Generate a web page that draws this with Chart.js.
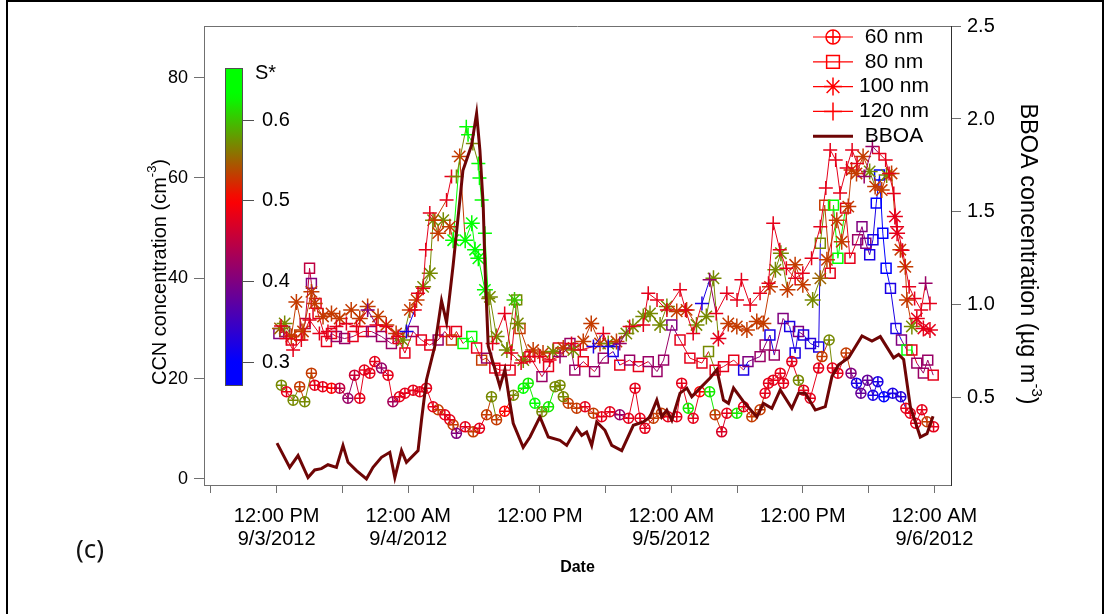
<!DOCTYPE html>
<html>
<head>
<meta charset="utf-8">
<script src="https://cdn.jsdelivr.net/npm/chart.js@4.4.1/dist/chart.umd.min.js"></script>
<style>
  body { margin: 0; background: #fff; }
  #wrap { position: relative; width: 1108px; height: 614px; }
  #frame { position: absolute; left: 6px; top: 0; width: 1094px; height: 612px; border: 2px solid #000; border-bottom: none; }
  #panel { position: absolute; left: 76px; top: 530px; font: 26px "Noto Sans", "Open Sans", sans-serif; color: #111; }
</style>
</head>
<body>
<div id="wrap">
  <canvas id="ccnChart" width="1108" height="614"></canvas>
  <div id="frame"></div>
  <div id="panel">(c)</div>
</div>
<script>
// time axis: hours since 9/3/2012 00:00
const tickHours = [6, 12, 18, 24, 30, 36, 42, 48, 54, 60, 66, 72];
const labelHours = [12, 24, 36, 48, 60, 72];
const labelTimes = ['12:00 PM', '12:00 AM', '12:00 PM', '12:00 AM', '12:00 PM', '12:00 AM'];
const labelDates = ['9/3/2012', '9/4/2012', '', '9/5/2012', '', '9/6/2012'];
const ccnTicks = [0, 20, 40, 60, 80];
const bboaTicks = [0.5, 1.0, 1.5, 2.0, 2.5];
const sStarTicks = [0.3, 0.4, 0.5, 0.6];

// 60 nm
const t60 = [12.43, 12.9, 13.5, 14.1, 14.56, 15.17, 15.47, 16.2, 17.0, 17.75, 18.5, 19.1, 19.58, 20.0, 20.5, 20.95, 21.56, 22.16, 22.6, 23.2, 23.7, 24.45, 25.06, 25.67, 26.27, 26.73, 27.34, 27.8, 28.1, 28.4, 29.2, 29.93, 30.5, 31.15, 31.6, 32.06, 32.8, 33.6, 34.5, 34.95, 35.56, 36.2, 36.8, 37.4, 37.85, 38.15, 38.6, 39.37, 40.13, 40.9, 41.65, 42.4, 43.3, 44.1, 44.7, 45.15, 45.6, 46.37, 47.1, 47.7, 48.5, 48.95, 49.55, 50.0, 50.6, 51.5, 52.0, 52.6, 53.07, 53.98, 54.6, 55.35, 56.1, 56.56, 56.87, 57.3, 57.94, 58.24, 59.0, 59.6, 60.07, 60.68, 61.44, 61.75, 62.4, 62.7, 63.2, 63.95, 64.4, 64.9, 65.3, 65.9, 66.4, 66.85, 67.4, 68.2, 68.94, 69.4, 69.8, 70.3, 70.87, 71.33, 71.93];
const ccn60 = [18.7, 17.4, 15.7, 18.4, 15.4, 21.1, 18.7, 18.4, 18.1, 18.1, 16.1, 20.7, 16.1, 21.7, 21.1, 23.4, 22.1, 20.7, 15.4, 16.4, 17.1, 17.7, 17.4, 18.1, 14.4, 13.8, 12.8, 11.8, 10.8, 9.1, 10.4, 9.4, 10.1, 12.8, 16.4, 11.8, 13.5, 16.7, 18.1, 19.1, 15.1, 13.4, 14.4, 18.4, 18.7, 16.4, 15.1, 14.1, 14.4, 13.1, 12.4, 13.4, 12.8, 12.1, 18.1, 12.1, 10.1, 12.1, 13.1, 12.4, 12.4, 19.1, 14.1, 12.1, 17.4, 17.4, 12.8, 9.4, 13.1, 13.1, 14.4, 12.4, 13.8, 17.1, 19.1, 19.7, 21.1, 19.1, 23.4, 19.7, 17.7, 16.1, 22.1, 24.4, 27.7, 22.1, 21.1, 25.1, 21.1, 19.1, 17.1, 19.7, 16.7, 19.4, 16.4, 17.1, 16.4, 14.1, 13.1, 11.1, 13.8, 11.4, 10.4];
const s60 = [0.57, 0.48, 0.57, 0.53, 0.57, 0.53, 0.48, 0.48, 0.5, 0.45, 0.42, 0.46, 0.48, 0.48, 0.48, 0.48, 0.42, 0.48, 0.43, 0.48, 0.48, 0.48, 0.48, 0.48, 0.48, 0.53, 0.48, 0.48, 0.53, 0.4, 0.48, 0.53, 0.48, 0.53, 0.57, 0.53, 0.5, 0.57, 0.63, 0.62, 0.63, 0.57, 0.62, 0.57, 0.57, 0.57, 0.53, 0.53, 0.48, 0.53, 0.48, 0.48, 0.42, 0.48, 0.48, 0.48, 0.48, 0.53, 0.53, 0.48, 0.48, 0.48, 0.62, 0.48, 0.5, 0.62, 0.53, 0.47, 0.48, 0.62, 0.48, 0.53, 0.53, 0.48, 0.48, 0.48, 0.48, 0.48, 0.48, 0.57, 0.48, 0.48, 0.48, 0.53, 0.57, 0.48, 0.48, 0.53, 0.4, 0.32, 0.38, 0.38, 0.32, 0.32, 0.3, 0.32, 0.33, 0.48, 0.48, 0.48, 0.48, 0.53, 0.48];

// 80 nm
const t80 = [12.2, 12.73, 13.34, 14.1, 14.6, 15.0, 15.17, 15.6, 15.77, 16.54, 17.0, 17.45, 18.2, 18.97, 19.9, 20.65, 21.56, 22.47, 23.08, 23.7, 24.45, 25.2, 25.97, 26.73, 27.34, 27.95, 28.4, 29.0, 29.8, 30.24, 30.7, 31.15, 31.9, 32.4, 33.3, 33.9, 34.2, 35.1, 36.2, 36.8, 37.7, 38.76, 39.2, 39.97, 41.0, 41.8, 42.7, 43.3, 44.2, 45.0, 45.9, 46.7, 47.3, 48.05, 48.8, 49.7, 50.8, 51.4, 52.0, 52.76, 53.7, 54.6, 55.0, 56.1, 56.56, 57.0, 57.4, 58.2, 58.8, 59.3, 59.6, 60.07, 60.7, 61.45, 61.6, 62.0, 62.5, 62.8, 63.2, 63.9, 64.3, 65.0, 65.4, 65.75, 66.1, 66.4, 66.7, 67.0, 67.3, 67.6, 68.0, 68.5, 69.0, 69.5, 69.95, 70.4, 71.0, 71.4, 71.9];
const ccn80 = [29.0, 29.4, 27.7, 28.7, 31.0, 42.0, 39.0, 35.0, 33.0, 27.4, 29.0, 28.4, 28.0, 28.4, 29.4, 29.4, 28.4, 27.0, 28.0, 25.1, 29.4, 27.7, 26.7, 27.7, 29.4, 27.7, 29.4, 27.0, 28.4, 26.1, 23.7, 24.1, 22.1, 21.7, 21.7, 35.7, 30.0, 24.4, 20.4, 22.4, 26.1, 27.0, 21.7, 23.4, 21.4, 24.1, 25.4, 22.7, 23.7, 22.4, 23.4, 21.4, 23.7, 30.7, 27.7, 24.1, 23.1, 25.4, 21.7, 22.4, 23.7, 21.7, 23.4, 24.4, 26.7, 28.7, 24.7, 32.0, 30.4, 25.1, 29.4, 28.7, 27.0, 26.3, 47.0, 54.6, 41.0, 54.6, 44.0, 54.0, 44.0, 47.7, 50.3, 47.0, 44.7, 47.7, 55.0, 60.6, 49.0, 42.0, 38.0, 30.0, 27.7, 25.7, 25.7, 23.1, 21.1, 23.7, 20.7];
const s80 = [0.4, 0.42, 0.48, 0.53, 0.45, 0.45, 0.4, 0.48, 0.48, 0.48, 0.48, 0.42, 0.42, 0.48, 0.48, 0.42, 0.42, 0.42, 0.48, 0.48, 0.42, 0.48, 0.48, 0.42, 0.48, 0.53, 0.48, 0.63, 0.63, 0.48, 0.53, 0.42, 0.48, 0.48, 0.48, 0.57, 0.53, 0.48, 0.42, 0.48, 0.48, 0.42, 0.42, 0.48, 0.42, 0.42, 0.32, 0.48, 0.42, 0.48, 0.42, 0.42, 0.42, 0.4, 0.48, 0.48, 0.48, 0.57, 0.48, 0.48, 0.48, 0.32, 0.4, 0.42, 0.42, 0.32, 0.42, 0.4, 0.32, 0.32, 0.4, 0.32, 0.33, 0.32, 0.57, 0.53, 0.48, 0.63, 0.63, 0.48, 0.48, 0.42, 0.4, 0.4, 0.32, 0.32, 0.3, 0.3, 0.3, 0.3, 0.32, 0.32, 0.4, 0.63, 0.48, 0.42, 0.42, 0.42, 0.48];

// 100 nm
const t100 = [12.3, 12.73, 13.34, 13.8, 14.4, 15.17, 15.47, 16.23, 17.0, 17.75, 18.8, 19.58, 20.3, 21.25, 22.0, 22.9, 23.5, 24.15, 24.76, 25.36, 25.97, 26.27, 26.73, 27.2, 27.8, 28.1, 28.7, 29.2, 29.8, 30.1, 30.4, 31.0, 31.45, 32.06, 33.0, 33.7, 34.0, 34.5, 35.4, 36.3, 37.2, 38.15, 39.06, 39.97, 40.7, 41.5, 42.25, 43.0, 43.9, 44.5, 45.45, 46.06, 46.98, 47.6, 48.5, 49.4, 50.3, 51.2, 51.85, 52.3, 53.2, 53.98, 54.9, 55.8, 56.4, 57.0, 57.5, 58.0, 58.6, 59.3, 60.0, 60.9, 61.6, 62.2, 63.1, 63.55, 64.15, 64.45, 64.9, 65.5, 66.1, 66.6, 67.2, 67.65, 68.1, 68.4, 68.6, 68.9, 69.35, 69.5, 69.95, 70.4, 71.0, 71.6];
const ccn100 = [30.0, 31.0, 28.4, 35.3, 29.4, 37.3, 35.0, 32.4, 33.0, 32.0, 33.7, 32.0, 34.4, 32.4, 30.7, 29.0, 27.7, 33.7, 35.7, 38.3, 41.0, 51.6, 49.0, 51.6, 50.3, 47.6, 64.3, 47.6, 51.0, 45.7, 44.0, 37.7, 36.3, 28.4, 25.7, 35.7, 31.0, 23.7, 25.7, 25.1, 25.4, 26.1, 25.7, 27.4, 31.0, 27.0, 27.0, 27.4, 29.0, 30.4, 32.4, 33.0, 30.7, 34.4, 33.4, 33.7, 30.7, 32.4, 40.0, 28.0, 31.0, 30.4, 29.7, 31.4, 31.0, 38.3, 41.7, 45.0, 37.7, 42.7, 38.7, 35.7, 40.0, 43.7, 51.6, 47.3, 54.3, 61.6, 60.9, 64.3, 61.3, 58.3, 57.6, 60.6, 60.9, 52.3, 49.0, 45.7, 42.3, 35.7, 30.4, 32.0, 30.0, 29.7];
const s100 = [0.55, 0.57, 0.53, 0.53, 0.53, 0.53, 0.53, 0.53, 0.53, 0.53, 0.53, 0.53, 0.53, 0.53, 0.53, 0.53, 0.57, 0.53, 0.53, 0.57, 0.57, 0.57, 0.53, 0.57, 0.53, 0.63, 0.53, 0.63, 0.63, 0.63, 0.63, 0.63, 0.57, 0.57, 0.57, 0.6, 0.57, 0.57, 0.53, 0.53, 0.57, 0.53, 0.57, 0.53, 0.53, 0.53, 0.57, 0.53, 0.57, 0.57, 0.57, 0.57, 0.57, 0.57, 0.53, 0.53, 0.57, 0.57, 0.57, 0.48, 0.53, 0.53, 0.53, 0.53, 0.53, 0.53, 0.57, 0.57, 0.53, 0.53, 0.53, 0.57, 0.55, 0.53, 0.53, 0.53, 0.53, 0.53, 0.53, 0.53, 0.57, 0.53, 0.53, 0.57, 0.53, 0.48, 0.48, 0.53, 0.53, 0.53, 0.57, 0.48, 0.48, 0.48];

// 120 nm
const t120 = [12.4, 12.9, 13.5, 14.25, 15.0, 15.9, 16.68, 17.45, 18.36, 19.28, 20.3, 21.1, 22.0, 23.08, 23.84, 24.6, 24.9, 25.36, 25.6, 25.97, 26.43, 27.5, 27.95, 28.4, 29.3, 29.46, 29.9, 30.4, 30.5, 30.7, 31.0, 31.3, 31.7, 32.8, 33.4, 34.3, 35.1, 36.0, 36.9, 37.85, 38.9, 39.7, 40.9, 41.8, 42.25, 43.3, 44.2, 45.45, 45.9, 46.7, 47.6, 48.8, 49.3, 50.0, 50.8, 51.5, 52.1, 53.07, 54.0, 54.4, 55.2, 56.1, 56.87, 57.3, 57.9, 58.5, 59.3, 60.0, 60.8, 61.6, 62.1, 62.5, 63.0, 63.4, 64.0, 64.5, 64.95, 65.6, 66.35, 66.96, 67.56, 67.87, 68.3, 68.6, 69.1, 69.7, 70.2, 70.8, 71.2, 71.6];
const ccn120 = [30.5, 28.0, 25.7, 27.7, 31.7, 29.0, 29.4, 30.4, 31.0, 30.4, 33.7, 30.7, 30.4, 28.4, 29.4, 33.7, 37.0, 38.0, 45.7, 53.0, 51.6, 55.6, 60.3, 60.3, 70.2, 68.6, 66.9, 62.9, 60.0, 55.6, 49.0, 36.0, 27.0, 33.0, 25.1, 23.1, 24.4, 24.4, 23.7, 24.4, 27.0, 25.7, 26.4, 29.0, 26.4, 27.0, 30.4, 30.7, 37.0, 35.7, 33.7, 37.7, 33.7, 29.0, 35.0, 39.7, 33.0, 37.0, 35.7, 39.7, 34.7, 37.0, 39.0, 51.0, 45.7, 42.0, 40.0, 41.0, 44.0, 50.3, 58.0, 65.6, 63.6, 57.0, 62.0, 65.6, 62.9, 60.3, 66.3, 64.9, 63.6, 60.9, 56.9, 50.3, 45.6, 38.3, 36.0, 33.7, 39.0, 35.0];
const s120 = [0.48, 0.48, 0.48, 0.48, 0.48, 0.48, 0.48, 0.48, 0.48, 0.48, 0.4, 0.48, 0.48, 0.48, 0.32, 0.48, 0.48, 0.48, 0.48, 0.48, 0.53, 0.48, 0.48, 0.57, 0.63, 0.63, 0.57, 0.63, 0.63, 0.63, 0.63, 0.57, 0.48, 0.48, 0.48, 0.48, 0.48, 0.48, 0.48, 0.42, 0.48, 0.48, 0.32, 0.48, 0.32, 0.42, 0.48, 0.48, 0.48, 0.48, 0.48, 0.48, 0.48, 0.48, 0.32, 0.42, 0.48, 0.48, 0.48, 0.48, 0.48, 0.48, 0.48, 0.48, 0.48, 0.48, 0.48, 0.48, 0.48, 0.48, 0.48, 0.48, 0.48, 0.48, 0.48, 0.48, 0.48, 0.42, 0.42, 0.48, 0.48, 0.48, 0.48, 0.48, 0.48, 0.48, 0.48, 0.48, 0.42, 0.48];

// BBOA (ug m-3), right axis
const tBBOA = [12.03, 13.19, 13.95, 14.86, 15.47, 16.08, 16.68, 17.45, 18.05, 18.51, 19.28, 20.19, 20.79, 21.56, 22.32, 22.78, 23.39, 23.84, 24.9, 25.21, 25.67, 26.43, 27.04, 27.5, 28.1, 28.99, 29.78, 30.24, 30.54, 30.84, 31.0, 31.3, 32.37, 32.82, 33.28, 33.58, 34.49, 35.11, 36.02, 36.78, 37.84, 38.46, 39.37, 39.83, 40.28, 40.74, 41.2, 41.95, 42.57, 43.48, 44.54, 45.45, 46.06, 46.68, 47.13, 47.59, 48.05, 48.8, 49.42, 49.87, 50.63, 51.54, 52.16, 52.76, 53.22, 53.68, 54.59, 55.81, 56.41, 57.18, 57.94, 59.0, 59.61, 60.23, 61.14, 62.05, 62.66, 63.27, 64.18, 65.4, 66.31, 67.07, 68.28, 68.74, 69.2, 69.81, 70.72, 71.33, 71.88];
const bboa = [0.257, 0.127, 0.19, 0.072, 0.113, 0.12, 0.141, 0.127, 0.245, 0.154, 0.109, 0.065, 0.127, 0.181, 0.208, 0.072, 0.217, 0.154, 0.217, 0.38, 0.598, 0.779, 1.023, 0.906, 1.214, 1.723, 1.859, 2.03, 1.832, 1.54, 1.214, 0.779, 0.561, 0.652, 0.473, 0.364, 0.235, 0.29, 0.398, 0.29, 0.272, 0.245, 0.337, 0.299, 0.317, 0.245, 0.371, 0.326, 0.245, 0.217, 0.353, 0.371, 0.398, 0.489, 0.398, 0.435, 0.38, 0.526, 0.553, 0.507, 0.553, 0.607, 0.652, 0.489, 0.471, 0.553, 0.48, 0.398, 0.471, 0.444, 0.543, 0.444, 0.526, 0.526, 0.435, 0.453, 0.616, 0.679, 0.716, 0.833, 0.806, 0.83, 0.716, 0.734, 0.707, 0.453, 0.29, 0.308, 0.402];

const FONT = '"Liberation Sans", Arial, sans-serif';
const BBOA_COLOR = '#6e0505';

// blue -> red -> green colour scale for S*
function sColor(s) {
    var stops = [[0.30, [0, 0, 255]], [0.50, [255, 0, 0]], [0.63, [0, 255, 0]]];
    if (s <= stops[0][0]) return 'rgb(0,0,255)';
    if (s >= stops[2][0]) return 'rgb(0,255,0)';
    var a = s < stops[1][0] ? stops[0] : stops[1];
    var b = s < stops[1][0] ? stops[1] : stops[2];
    var f = (s - a[0]) / (b[0] - a[0]);
    var c = [0, 1, 2].map(k => Math.round(a[1][k] + (b[1][k] - a[1][k]) * f));
    return 'rgb(' + c.join(',') + ')';
}

function pts(t, c) {
    return t.map((x, i) => ({x: x, y: c[i]}));
}

function ccnSet(label, t, c, s, style, radius, showLine, order) {
    var cols = s.map(sColor);
    return {
        label: label,
        data: pts(t, c),
        yAxisID: 'y',
        showLine: showLine,
        borderWidth: 1,
        borderColor: cols[0],
        segment: { borderColor: ctx => cols[ctx.p0DataIndex] },
        pointStyle: style,
        pointRadius: radius,
        pointBorderWidth: 1.5,
        pointBorderColor: cols,
        pointBackgroundColor: 'rgba(0,0,0,0)',
        tension: 0,
        order: order
    };
}

function superTitle(ctx, x, y, rot, size, main, sup, tail) {
    var big = size + 'px ' + FONT;
    var small = Math.round(size * 0.65) + 'px ' + FONT;
    ctx.save();
    ctx.translate(x, y);
    ctx.rotate(rot);
    ctx.fillStyle = '#000';
    ctx.textBaseline = 'middle';
    ctx.textAlign = 'left';
    ctx.font = big;
    var w1 = ctx.measureText(main).width, w3 = ctx.measureText(tail).width;
    ctx.font = small;
    var w2 = ctx.measureText(sup).width;
    var cx = -(w1 + w2 + w3) / 2;
    ctx.font = big; ctx.fillText(main, cx, 0); cx += w1;
    ctx.font = small; ctx.fillText(sup, cx, -size * 0.38); cx += w2;
    ctx.font = big; ctx.fillText(tail, cx, 0);
    ctx.restore();
}

// box, axis titles, S* colour bar and legend
const decorations = {
    id: 'decorations',
    afterDraw(chart) {
        var ctx = chart.ctx, ca = chart.chartArea;
        ctx.save();
        ctx.strokeStyle = '#707070';
        ctx.lineWidth = 1;
        ctx.beginPath();
        ctx.moveTo(ca.left, ca.top + 0.5);
        ctx.lineTo(ca.right, ca.top + 0.5);
        ctx.stroke();

        superTitle(ctx, 160, 272, -Math.PI / 2, 20, 'CCN concentration (cm', '-3', ')');
        superTitle(ctx, 1027, 254, Math.PI / 2, 23.5, 'BBOA concentration (\u00b5g m', '-3', ')');
        ctx.font = 'bold 16px ' + FONT;
        ctx.fillStyle = '#000';
        ctx.textAlign = 'center';
        ctx.textBaseline = 'middle';
        ctx.fillText('Date', (ca.left + ca.right) / 2, 568);

        // colour bar
        var bx0 = ca.left + 21, bx1 = ca.left + 38;
        var sTop = 0.664, sBot = 0.271, yTop = 68, yBot = 385;
        var sy = s => yTop + (sTop - s) / (sTop - sBot) * (yBot - yTop);
        var grad = ctx.createLinearGradient(0, yTop, 0, yBot);
        for (var i = 0; i <= 40; i++) {
            var s = sTop - (sTop - sBot) * i / 40;
            grad.addColorStop(i / 40, sColor(s));
        }
        ctx.fillStyle = grad;
        ctx.fillRect(bx0, yTop, bx1 - bx0, yBot - yTop);
        ctx.strokeStyle = '#505050';
        ctx.strokeRect(bx0 + 0.5, yTop + 0.5, bx1 - bx0, yBot - yTop);
        ctx.font = '20px ' + FONT;
        ctx.fillStyle = '#000';
        ctx.textAlign = 'left';
        sStarTicks.forEach(function (v) {
            var y = Math.round(sy(v)) + 0.5;
            ctx.beginPath();
            ctx.moveTo(bx1, y);
            ctx.lineTo(bx1 + 12, y);
            ctx.stroke();
            ctx.fillText(v.toFixed(1), bx1 + 20, y);
        });
        ctx.fillText('S*', bx1 + 13, 73);

        // legend
        var lx0 = ca.right - 138, lx1 = ca.right - 98, tx = ca.right - 57;
        var rows = [['60 nm', 'circle'], ['80 nm', 'rect'], ['100 nm', 'star'], ['120 nm', 'cross'], ['BBOA', null]];
        ctx.font = '21px ' + FONT;
        ctx.textAlign = 'center';
        rows.forEach(function (r, i) {
            var y = ca.top + 11 + i * 24.8;
            ctx.lineWidth = r[1] ? 1.2 : 3;
            ctx.strokeStyle = r[1] ? '#ff0000' : BBOA_COLOR;
            ctx.beginPath();
            ctx.moveTo(lx0, y);
            ctx.lineTo(lx1, y);
            ctx.stroke();
            if (r[1]) {
                ctx.fillStyle = 'rgba(0,0,0,0)';
                ctx.lineWidth = 1.5;
                var rad = r[1] === 'circle' ? 7 : 9;
                Chart.helpers.drawPoint(ctx, {pointStyle: r[1], radius: rad, rotation: 0, borderWidth: 1.5}, (lx0 + lx1) / 2, y);
                if (r[1] === 'circle') {
                    Chart.helpers.drawPoint(ctx, {pointStyle: 'cross', radius: 7, rotation: 0, borderWidth: 1.5}, (lx0 + lx1) / 2, y);
                }
            }
            ctx.fillStyle = '#000';
            ctx.fillText(r[0], tx, y);
        });
        ctx.restore();
    }
};

const ctx = document.getElementById('ccnChart').getContext('2d');

new Chart(ctx, {
    type: 'line',
    data: {
        datasets: [
            {
                label: 'BBOA',
                data: pts(tBBOA, bboa),
                yAxisID: 'y2',
                borderColor: BBOA_COLOR,
                borderWidth: 3,
                pointRadius: 0,
                tension: 0,
                order: 0
            },
            ccnSet('60 nm', t60, ccn60, s60, 'circle', 5, true, 2),
            ccnSet('60 nm cross', t60, ccn60, s60, 'cross', 5, false, 1),
            ccnSet('80 nm', t80, ccn80, s80, 'rect', 7, true, 5),
            ccnSet('100 nm', t100, ccn100, s100, 'star', 8, true, 4),
            ccnSet('120 nm', t120, ccn120, s120, 'cross', 7, true, 3)
        ]
    },
    options: {
        responsive: false,
        animation: false,
        events: [],
        layout: { padding: { top: 26 } },
        plugins: { legend: { display: false }, tooltip: { enabled: false } },
        scales: {
            x: {
                type: 'linear',
                min: 5.37,
                max: 73.52,
                afterBuildTicks: axis => { axis.ticks = tickHours.map(v => ({value: v})); },
                afterFit: axis => { axis.height = 129; },
                grid: { drawOnChartArea: false, tickLength: 8, color: '#707070' },
                border: { color: '#707070' },
                ticks: {
                    autoSkip: false,
                    maxRotation: 0,
                    padding: 12,
                    color: '#000',
                    font: { family: FONT, size: 20, lineHeight: 1.15 },
                    callback: function (value) {
                        var i = labelHours.indexOf(value);
                        if (i < 0) return '';
                        return labelDates[i] ? [labelTimes[i], labelDates[i]] : labelTimes[i];
                    }
                }
            },
            y: {
                position: 'left',
                min: -1.2,
                max: 90.3,
                afterBuildTicks: axis => { axis.ticks = ccnTicks.map(v => ({value: v})); },
                afterFit: axis => { axis.width = 204; },
                grid: { drawOnChartArea: false, tickLength: 10, color: '#707070' },
                border: { color: '#707070' },
                ticks: { padding: 6, color: '#000', font: { family: FONT, size: 18 } }
            },
            y2: {
                position: 'right',
                min: 0.032,
                max: 2.5,
                afterBuildTicks: axis => { axis.ticks = bboaTicks.map(v => ({value: v})); },
                afterFit: axis => { axis.width = 157; },
                grid: { drawOnChartArea: false, tickLength: 10, color: '#707070' },
                border: { color: '#303030' },
                ticks: {
                    padding: 6,
                    color: '#000',
                    font: { family: FONT, size: 20 },
                    callback: v => v.toFixed(1)
                }
            }
        }
    },
    plugins: [decorations]
});
</script>
</body>
</html>
